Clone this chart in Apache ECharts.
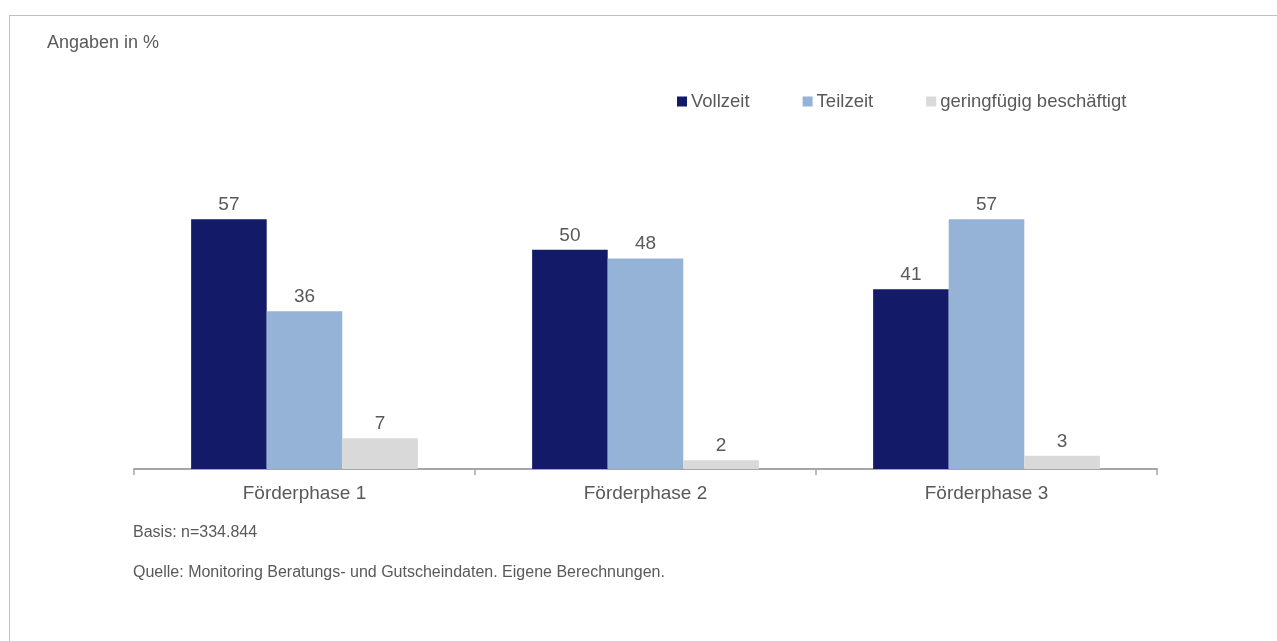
<!DOCTYPE html>
<html><head><meta charset="utf-8">
<script src="https://cdn.jsdelivr.net/npm/echarts@6/dist/echarts.min.js"></script>
<style>html,body{margin:0;padding:0;background:#fff}#c{width:1277px;height:641px}</style>
</head><body><div id="c"></div>
<script>
const categories = ['Förderphase 1', 'Förderphase 2', 'Förderphase 3'];
const seriesNames = ['Vollzeit', 'Teilzeit', 'geringfügig beschäftigt'];
const vollzeit = [57, 50, 41];
const teilzeit = [36, 48, 57];
const geringfuegig = [7, 2, 3];
const colors = ['#131B69', '#95B3D7', '#D9D9D9'];
const values = [vollzeit, teilzeit, geringfuegig];

const chart = echarts.init(document.getElementById('c'));
const font = 'Liberation Sans, Arial, sans-serif';
chart.setOption({
  animation: false,
  textStyle: { fontFamily: font },
  grid: { left: 134, right: 120, top: 206, bottom: 172, containLabel: false },
  legend: {
    data: seriesNames,
    left: 672, top: 87,
    itemWidth: 10, itemHeight: 10, itemGap: 53,
    icon: 'rect',
    textStyle: { color: '#595959', fontSize: 18.5, fontFamily: font, padding: [0,0,0,-1] }
  },
  xAxis: {
    type: 'category', data: categories,
    axisLine: { lineStyle: { color: '#A6A6A6', width: 2 } },
    axisTick: { show: true, length: 6, lineStyle: { color: '#A6A6A6', width: 1.5 } },
    axisLabel: { color: '#595959', fontSize: 19, margin: 15, fontFamily: font }
  },
  yAxis: { type: 'value', min: 0, max: 60, show: false, splitLine: { show: false } },
  series: seriesNames.map((n, i) => ({
    name: n, type: 'bar', data: values[i],
    barGap: '0%', barCategoryGap: '33.5%',
    itemStyle: { color: colors[i] },
    label: { show: true, position: 'top', distance: 5, color: '#595959', fontSize: 19, fontFamily: font }
  })),
  graphic: [
    { type: 'line', shape: { x1: 9, y1: 15.5, x2: 1277, y2: 15.5 }, style: { stroke: '#BFBFBF', lineWidth: 1 } },
    { type: 'line', shape: { x1: 9.5, y1: 15, x2: 9.5, y2: 641 }, style: { stroke: '#BFBFBF', lineWidth: 1 } },
    { type: 'text', left: 47, top: 34, style: { text: 'Angaben in %', fill: '#595959', font: '18px ' + font } },
    { type: 'text', left: 133, top: 525, style: { text: 'Basis: n=334.844', fill: '#595959', font: '16px ' + font } },
    { type: 'text', left: 133, top: 565, style: { text: 'Quelle: Monitoring Beratungs- und Gutscheindaten. Eigene Berechnungen.', fill: '#595959', font: '16px ' + font } }
  ]
});
</script></body></html>
